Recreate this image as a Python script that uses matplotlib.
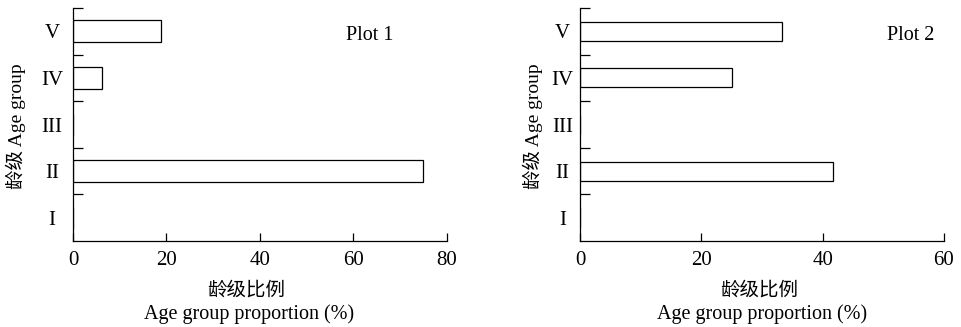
import matplotlib
matplotlib.use("Agg")
import matplotlib.pyplot as plt
from matplotlib.ticker import FixedLocator

plt.rcParams['font.family'] = ['Liberation Serif', 'Noto Sans CJK SC']

categories = ["I", "II", "III", "IV", "V"]
plot1_values = [0, 75.0, 0, 6.25, 18.75]
plot2_values = [0, 41.67, 0, 25.0, 33.33]
plot1_xticks = [0, 20, 40, 60, 80]
plot2_xticks = [0, 20, 40, 60]
titles = ["Plot 1", "Plot 2"]
ylabel_text = "龄级 Age group"
xlabel_cn = "龄级比例"
xlabel_en = "Age group proportion (%)"

W, H = 961, 327
fig = plt.figure(figsize=(W / 100, H / 100), dpi=100)

panels = [
    dict(vals=plot1_values, xt=plot1_xticks, title=titles[0],
         box=(73, 446.7), bh=0.47, lpad=15.0, title_x=370,
         cn_x=246.5, en_x=249, yl_x=16),
    dict(vals=plot2_values, xt=plot2_xticks, title=titles[1],
         box=(580, 944), bh=0.41, lpad=12.5, title_x=911,
         cn_x=759, en_x=762.5, yl_x=533),
]

top_px, bot_px = 8, 241
for p in panels:
    x0, x1 = p["box"]
    ax = fig.add_axes([x0 / W, 1 - bot_px / H, (x1 - x0) / W, (bot_px - top_px) / H])
    ypos = list(range(len(categories)))
    ax.barh(ypos, p["vals"], height=p["bh"], color="white",
            edgecolor="black", linewidth=0.9)
    ax.set_xlim(p["xt"][0], p["xt"][-1])
    ax.set_ylim(-0.5, len(categories) - 0.5)
    ax.spines["top"].set_visible(False)
    ax.spines["right"].set_visible(False)
    for s in ("left", "bottom"):
        ax.spines[s].set_linewidth(0.9)
    ax.set_xticks(p["xt"])
    ax.set_xticklabels([str(v) for v in p["xt"]], fontsize=15)
    ax.tick_params(axis="x", direction="in", length=5.8, width=0.9, pad=7)
    ax.set_yticks(ypos)
    ax.set_yticklabels(categories, fontsize=15, ha="center")
    ax.tick_params(axis="y", which="major", length=0, pad=p["lpad"])
    ax.yaxis.set_minor_locator(FixedLocator([i + 0.5 for i in ypos]))
    ax.tick_params(axis="y", which="minor", direction="in", length=7.2, width=0.9)
    fig.text(p["title_x"] / W, 1 - 40 / H, p["title"],
             ha="center", va="baseline", fontsize=14.5)
    fig.text(p["cn_x"] / W, 1 - 296 / H, xlabel_cn, ha="center", va="baseline",
             fontsize=14, family=["Noto Sans CJK SC"])
    fig.text(p["en_x"] / W, 1 - 318.5 / H, xlabel_en, ha="center", va="baseline",
             fontsize=14.5)
    fig.text(p["yl_x"] / W, 1 - 126.5 / H, ylabel_text, ha="center", va="center",
             rotation=90, fontsize=14)

fig.savefig("out.png", dpi=100)
